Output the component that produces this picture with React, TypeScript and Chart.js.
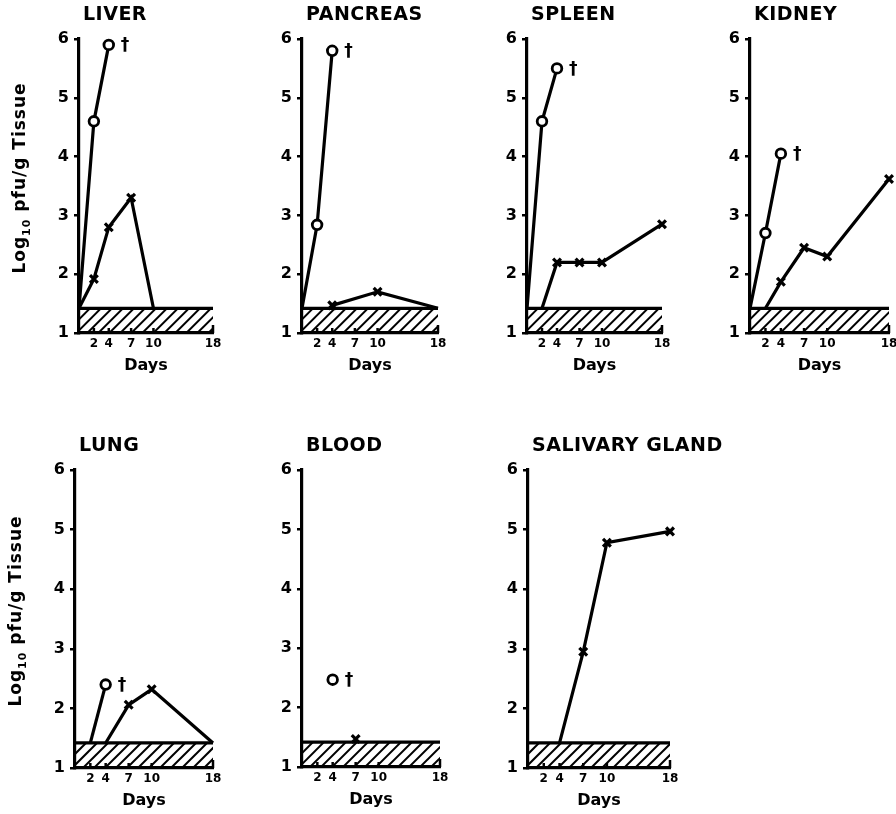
import React, { useEffect, useRef } from "react";
import { Chart, registerables } from "chart.js";

Chart.register(...registerables);

// ---- data ----
const LOD = 1.42; // detection limit (top of hatched band), log10 pfu/g
const DAY_TICKS = [2, 4, 7, 10, 18];
const Y_MIN = 1;
const Y_MAX = 6;
const X_MAX = 18;

// "o" series (fatal, marked with a dagger)  |  "x" series (surviving)
const liverFatalDays = [0, 2, 4];
const liverFatalLog = [LOD, 4.6, 5.9];
const liverSurvDays = [0, 2, 4, 7, 10];
const liverSurvLog = [LOD, 1.92, 2.8, 3.3, LOD];

const pancreasFatalDays = [0, 2, 4];
const pancreasFatalLog = [LOD, 2.84, 5.8];
const pancreasSurvDays = [4, 10, 18];
const pancreasSurvLog = [1.47, 1.7, LOD];

const spleenFatalDays = [0, 2, 4];
const spleenFatalLog = [LOD, 4.6, 5.5];
const spleenSurvDays = [2, 4, 7, 10, 18];
const spleenSurvLog = [LOD, 2.2, 2.2, 2.2, 2.85];

const kidneyFatalDays = [0, 2, 4];
const kidneyFatalLog = [LOD, 2.7, 4.05];
const kidneySurvDays = [2, 4, 7, 10, 18];
const kidneySurvLog = [LOD, 1.87, 2.45, 2.3, 3.62];

const lungFatalDays = [2, 4];
const lungFatalLog = [LOD, 2.4];
const lungSurvDays = [4, 7, 10, 18];
const lungSurvLog = [LOD, 2.06, 2.32, LOD];

const bloodFatalDays = [4];
const bloodFatalLog = [2.47];
const bloodSurvDays = [7];
const bloodSurvLog = [1.47];

const salivaryFatalDays: number[] = [];
const salivaryFatalLog: number[] = [];
const salivarySurvDays = [4, 7, 10, 18];
const salivarySurvLog = [LOD, 2.95, 4.78, 4.97];

const organNames = ["LIVER", "PANCREAS", "SPLEEN", "KIDNEY", "LUNG", "BLOOD", "SALIVARY GLAND"];
const yAxisTitle = { main: "Log", sub: "10", rest: " pfu/g Tissue" };
const xAxisTitle = "Days";

// ---- layout (page pixels of each panel's plot area) ----
const PANELS = [
  { name: organNames[0], fd: liverFatalDays, fv: liverFatalLog, sd: liverSurvDays, sv: liverSurvLog, ax: 79, x18: 213, top: 39, bottom: 333, yTitle: true },
  { name: organNames[1], fd: pancreasFatalDays, fv: pancreasFatalLog, sd: pancreasSurvDays, sv: pancreasSurvLog, ax: 302, x18: 438, top: 39, bottom: 333, yTitle: false },
  { name: organNames[2], fd: spleenFatalDays, fv: spleenFatalLog, sd: spleenSurvDays, sv: spleenSurvLog, ax: 527, x18: 662, top: 39, bottom: 333, yTitle: false },
  { name: organNames[3], fd: kidneyFatalDays, fv: kidneyFatalLog, sd: kidneySurvDays, sv: kidneySurvLog, ax: 750, x18: 889, top: 39, bottom: 333, yTitle: false },
  { name: organNames[4], fd: lungFatalDays, fv: lungFatalLog, sd: lungSurvDays, sv: lungSurvLog, ax: 75, x18: 213, top: 470, bottom: 768, yTitle: true },
  { name: organNames[5], fd: bloodFatalDays, fv: bloodFatalLog, sd: bloodSurvDays, sv: bloodSurvLog, ax: 302, x18: 440, top: 470, bottom: 767, yTitle: false },
  { name: organNames[6], fd: salivaryFatalDays, fv: salivaryFatalLog, sd: salivarySurvDays, sv: salivarySurvLog, ax: 528, x18: 670, top: 470, bottom: 768, yTitle: false },
];

const FONT = "'DejaVu Sans', 'Liberation Sans', sans-serif";
const PAD_L = 46;
const Y_W = 30;
const PAD_T = 40;
const X_H = 50;
const PAD_R = 100;

const decorPlugin = {
  id: "panelDecor",
  beforeDatasetsDraw(chart: any) {
    const { ctx, scales } = chart;
    const x = scales.x;
    const y = scales.y;
    const x0 = x.getPixelForValue(0);
    const x1 = x.getPixelForValue(X_MAX);
    const yb = y.getPixelForValue(Y_MIN);
    const yt = y.getPixelForValue(LOD);
    const h = yb - yt;
    // hatching
    ctx.save();
    ctx.beginPath();
    ctx.rect(x0, yt, x1 - x0, h);
    ctx.clip();
    ctx.strokeStyle = "#000";
    ctx.lineWidth = 2;
    for (let sx = x0 - h; sx < x1 + h; sx += 11) {
      ctx.beginPath();
      ctx.moveTo(sx, yb);
      ctx.lineTo(sx + h, yt);
      ctx.stroke();
    }
    ctx.restore();
    // top of band
    ctx.save();
    ctx.strokeStyle = "#000";
    ctx.lineWidth = 3.2;
    ctx.beginPath();
    ctx.moveTo(x0, yt);
    ctx.lineTo(x1, yt);
    ctx.stroke();
    // inward day ticks
    ctx.lineWidth = 2.5;
    DAY_TICKS.forEach((d) => {
      const px = x.getPixelForValue(d);
      ctx.beginPath();
      ctx.moveTo(px, yb);
      ctx.lineTo(px, yb - (d === X_MAX ? 8 : 5));
      ctx.stroke();
    });
    ctx.restore();
  },
  afterDraw(chart: any, _args: any, opts: any) {
    const { ctx, chartArea } = chart;
    ctx.save();
    ctx.fillStyle = "#000";
    // panel title
    ctx.font = `bold 19px ${FONT}`;
    ctx.textAlign = "left";
    ctx.textBaseline = "middle";
    (ctx as any).letterSpacing = "0.5px";
    ctx.fillText(opts.title, chartArea.left + 4, chartArea.top - 24);
    (ctx as any).letterSpacing = "0px";
    // dagger after last fatal point
    const meta = chart.getDatasetMeta(0);
    if (meta && meta.data.length) {
      const pt = meta.data[meta.data.length - 1];
      ctx.font = `bold 17px ${FONT}`;
      ctx.fillText("\u2020", pt.x + 12, pt.y + 1);
    }
    // y-axis title
    if (opts.yTitle) {
      const cx = chartArea.left - 58;
      const cy = (chartArea.top + chartArea.bottom) / 2 - 8;
      ctx.translate(cx, cy);
      ctx.rotate(-Math.PI / 2);
      ctx.textBaseline = "middle";
      (ctx as any).letterSpacing = "1px";
      const fMain = `bold 17px ${FONT}`;
      const fSub = `bold 11px ${FONT}`;
      ctx.font = fMain;
      const w1 = ctx.measureText(yAxisTitle.main).width;
      const w3 = ctx.measureText(yAxisTitle.rest).width;
      ctx.font = fSub;
      const w2 = ctx.measureText(yAxisTitle.sub).width;
      let sx = -(w1 + w2 + w3) / 2;
      ctx.font = fMain;
      ctx.fillText(yAxisTitle.main, sx, 0);
      sx += w1;
      ctx.font = fSub;
      ctx.fillText(yAxisTitle.sub, sx, 6);
      sx += w2;
      ctx.font = fMain;
      ctx.fillText(yAxisTitle.rest, sx, 0);
    }
    ctx.restore();
  },
};

type PanelDef = (typeof PANELS)[number];

function Panel({ p }: { p: PanelDef }) {
  const ref = useRef<HTMLCanvasElement | null>(null);
  const W = PAD_L + Y_W + (p.x18 - p.ax) + PAD_R;
  const H = PAD_T + (p.bottom - p.top) + X_H;
  const left = p.ax - PAD_L - Y_W;
  const top = p.top - PAD_T;

  useEffect(() => {
    if (!ref.current) return;
    Chart.defaults.font.family = FONT;
    Chart.defaults.color = "#000";
    const fatal = p.fd.map((d, i) => ({ x: d, y: p.fv[i] }));
    const surv = p.sd.map((d, i) => ({ x: d, y: p.sv[i] }));
    const marked = (ctx: any) => (ctx.raw && ctx.raw.y > LOD ? 1 : 0);
    const chart = new Chart(ref.current, {
      type: "line",
      data: {
        datasets: [
          {
            label: "fatal",
            data: fatal,
            borderColor: "#000",
            borderWidth: 3.2,
            tension: 0,
            pointStyle: "circle",
            pointRadius: (c: any) => 4.8 * marked(c),
            pointBackgroundColor: "#fff",
            pointBorderColor: "#000",
            pointBorderWidth: 2.8,
            clip: false,
          } as any,
          {
            label: "surviving",
            data: surv,
            borderColor: "#000",
            borderWidth: 3.2,
            tension: 0,
            pointStyle: "crossRot",
            pointRadius: (c: any) => 5.5 * marked(c),
            pointBorderColor: "#000",
            pointBackgroundColor: "#000",
            pointBorderWidth: 3.2,
            clip: false,
          } as any,
        ],
      },
      options: {
        responsive: false,
        animation: false,
        devicePixelRatio: 1,
        events: [],
        layout: { padding: { left: PAD_L, top: PAD_T, right: PAD_R, bottom: 0 } },
        plugins: {
          legend: { display: false },
          tooltip: { enabled: false },
          panelDecor: { title: p.name, yTitle: p.yTitle },
        } as any,
        scales: {
          x: {
            type: "linear",
            min: 0,
            max: X_MAX,
            afterBuildTicks: (s: any) => {
              s.ticks = DAY_TICKS.map((v) => ({ value: v }));
            },
            afterFit: (s: any) => {
              s.height = X_H;
            },
            grid: { display: false, drawTicks: false },
            border: { display: true, color: "#000", width: 3.2 },
            ticks: {
              autoSkip: false,
              maxRotation: 0,
              padding: 4,
              color: "#000",
              font: { size: 12, weight: "bold", family: FONT },
            },
            title: {
              display: true,
              text: xAxisTitle,
              color: "#000",
              font: { size: 16, weight: "bold", family: FONT },
              padding: { top: 0, bottom: 8 },
            },
          },
          y: {
            type: "linear",
            min: Y_MIN,
            max: Y_MAX,
            afterFit: (s: any) => {
              s.width = Y_W;
            },
            ticks: {
              stepSize: 1,
              padding: 5,
              color: "#000",
              font: { size: 16, weight: "bold", family: FONT },
            },
            grid: {
              drawOnChartArea: false,
              drawTicks: true,
              tickLength: 5,
              color: "#000",
              lineWidth: 2.5,
            },
            border: { display: true, color: "#000", width: 3.2 },
          },
        },
      } as any,
      plugins: [decorPlugin as any],
    });
    return () => chart.destroy();
  }, []);

  return (
    <canvas
      ref={ref}
      width={W}
      height={H}
      style={{ position: "absolute", left, top, width: W, height: H }}
    />
  );
}

export default function App() {
  return (
    <div
      style={{
        position: "absolute",
        left: 0,
        top: 0,
        width: 896,
        height: 814,
        overflow: "hidden",
        background: "#fff",
      }}
    >
      {PANELS.map((p) => (
        <Panel key={p.name} p={p} />
      ))}
    </div>
  );
}
